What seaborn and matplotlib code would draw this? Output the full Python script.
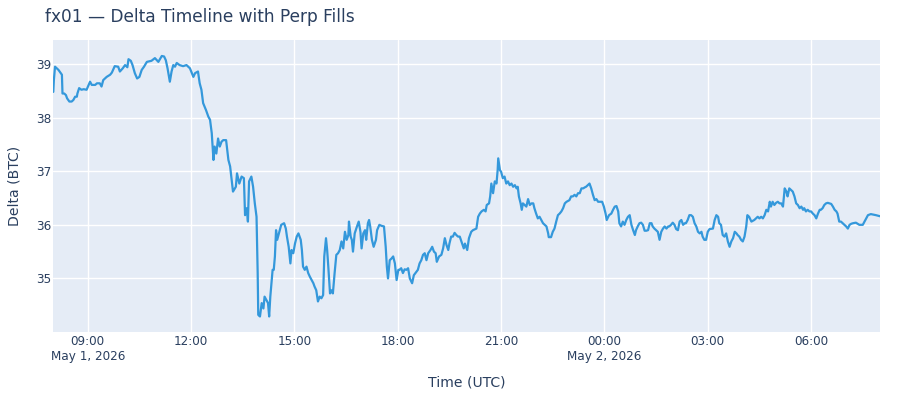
import pandas as pd
import matplotlib
matplotlib.use("Agg")
import matplotlib.pyplot as plt
import seaborn as sns

# Minutos desde 08:00 UTC del 1 de mayo y delta (BTC)
t_manana = [0, 1, 3, 6, 9, 11, 13, 15, 16, 19,
            22, 24, 28, 32, 35, 38, 41, 42, 45, 49,
            53, 58, 64, 67, 73, 76, 81, 84, 87, 93,
            99, 102, 107, 113, 116, 121, 125, 129, 131, 135,
            138, 142, 146, 150, 154, 158, 163, 171, 177, 183,
            189, 193, 196, 199, 203, 206, 209, 212, 215, 220]
d_manana = [38.48, 38.70, 38.95, 38.92, 38.89, 38.86, 38.83, 38.80, 38.45, 38.45,
            38.42, 38.36, 38.30, 38.30, 38.33, 38.39, 38.39, 38.45, 38.55, 38.52,
            38.53, 38.52, 38.67, 38.61, 38.61, 38.64, 38.64, 38.58, 38.70, 38.76,
            38.80, 38.84, 38.96, 38.95, 38.86, 38.92, 38.98, 38.94, 39.09, 39.06,
            38.98, 38.83, 38.73, 38.76, 38.89, 38.95, 39.04, 39.06, 39.11, 39.04,
            39.15, 39.14, 39.07, 38.92, 38.67, 38.86, 38.98, 38.95, 39.02, 38.98]

t_mediodia = [226, 232, 235, 238, 244, 247, 252, 255, 258, 261,
              266, 270, 273, 276, 279, 281, 284, 287, 290, 293,
              296, 301, 305, 308, 310, 313, 318, 320, 324, 328,
              332, 334, 337, 339, 341, 345, 348, 351, 354, 356,
              357, 360, 363, 366, 368, 371, 374, 376, 378, 382,
              384, 386, 388, 390, 393, 397, 402, 405, 407, 410,
              413, 415, 418, 421, 424, 427, 431, 433, 435, 438,
              441, 444, 447, 450, 453, 455, 458, 461, 464]
d_mediodia = [38.96, 38.98, 38.95, 38.92, 38.76, 38.83, 38.86, 38.64, 38.52, 38.27,
              38.14, 38.02, 37.96, 37.71, 37.21, 37.46, 37.33, 37.61, 37.46, 37.55,
              37.58, 37.58, 37.21, 37.09, 36.90, 36.62, 36.71, 36.96, 36.77, 36.90,
              36.87, 36.18, 36.31, 36.06, 36.81, 36.90, 36.71, 36.40, 36.15, 35.10,
              34.32, 34.29, 34.54, 34.44, 34.66, 34.60, 34.54, 34.29, 34.66, 35.16,
              35.16, 35.41, 35.90, 35.72, 35.84, 36.00, 36.03, 35.93, 35.78, 35.59,
              35.28, 35.53, 35.47, 35.65, 35.78, 35.84, 35.72, 35.53, 35.22, 35.16,
              35.22, 35.10, 35.03, 34.97, 34.91, 34.85, 34.78, 34.57, 34.66]

t_tarde = [467, 470, 472, 475, 477, 479, 482, 485, 487, 490,
           493, 496, 499, 502, 505, 508, 511, 514, 515, 518,
           520, 522, 525, 529, 532, 535, 537, 540, 543, 545,
           548, 550, 552, 555, 558, 562, 564, 568, 572, 576,
           579, 581, 583, 586, 589, 592, 595, 598, 601, 603,
           606, 609, 612, 615, 618, 621, 625, 628, 633, 635,
           638, 641, 644, 647, 650, 653, 657, 660, 663, 666,
           668, 672, 676, 679, 682, 685, 688, 690, 693, 696,
           699, 702, 705, 708, 713, 715, 717, 721, 724]
d_tarde = [34.63, 34.69, 35.41, 35.75, 35.53, 35.22, 34.72, 34.78, 34.72, 35.10,
           35.44, 35.47, 35.53, 35.69, 35.56, 35.87, 35.72, 35.81, 36.06, 35.78,
           35.72, 35.50, 35.84, 35.97, 36.06, 35.87, 35.56, 35.84, 35.90, 35.72,
           36.03, 36.09, 35.97, 35.72, 35.59, 35.72, 35.90, 36.00, 35.98, 35.97,
           35.59, 35.22, 35.00, 35.34, 35.37, 35.41, 35.28, 34.97, 35.16, 35.16,
           35.19, 35.10, 35.17, 35.16, 35.19, 35.00, 34.91, 35.06, 35.13, 35.16,
           35.28, 35.34, 35.44, 35.47, 35.34, 35.47, 35.53, 35.59, 35.50, 35.47,
           35.31, 35.41, 35.44, 35.56, 35.75, 35.62, 35.53, 35.65, 35.78, 35.78,
           35.85, 35.81, 35.78, 35.78, 35.62, 35.56, 35.65, 35.53, 35.75]

t_noche = [728, 731, 737, 740, 743, 746, 750, 753, 755, 759,
           761, 763, 766, 769, 772, 774, 775, 778, 780, 783,
           786, 789, 792, 795, 798, 801, 804, 807, 809, 811,
           814, 816, 818, 821, 824, 827, 830, 833, 836, 838,
           841, 844, 847, 850, 853, 856, 859, 862, 863, 867,
           870, 873, 876, 879, 882, 885, 888, 891, 894, 899,
           902, 905, 908, 911, 914, 917, 920, 923, 926, 928,
           931, 934, 937, 940, 943, 946, 949, 952]
d_noche = [35.87, 35.90, 35.93, 36.15, 36.21, 36.25, 36.28, 36.25, 36.37, 36.40,
           36.53, 36.77, 36.59, 36.81, 36.77, 37.02, 37.24, 37.02, 36.99, 36.87,
           36.90, 36.77, 36.81, 36.74, 36.77, 36.71, 36.74, 36.68, 36.71, 36.53,
           36.40, 36.28, 36.40, 36.37, 36.34, 36.48, 36.37, 36.40, 36.40, 36.31,
           36.21, 36.12, 36.15, 36.09, 36.03, 36.00, 35.97, 35.84, 35.77, 35.77,
           35.87, 35.93, 36.06, 36.18, 36.21, 36.25, 36.31, 36.40, 36.43, 36.46,
           36.53, 36.53, 36.56, 36.53, 36.59, 36.59, 36.68, 36.68, 36.70, 36.71,
           36.74, 36.77, 36.68, 36.56, 36.46, 36.48, 36.43, 36.43]

t_madrugada = [956, 959, 962, 964, 968, 972, 975, 978, 981, 984,
               986, 989, 992, 995, 998, 1001, 1004, 1007, 1010, 1013,
               1015, 1018, 1021, 1024, 1027, 1030, 1033, 1036, 1039, 1042,
               1044, 1047, 1050, 1053, 1056, 1059, 1062, 1065, 1068, 1071,
               1073, 1076, 1079, 1082, 1085, 1088, 1091, 1094, 1097, 1100,
               1102, 1105, 1108, 1111, 1114, 1117, 1120, 1123, 1126, 1129,
               1131, 1134, 1137, 1140, 1143, 1149, 1152, 1155, 1158, 1160,
               1163, 1166, 1169, 1172, 1175, 1178, 1181, 1184, 1187, 1190,
               1192, 1195]
d_madrugada = [36.43, 36.34, 36.21, 36.09, 36.18, 36.21, 36.28, 36.34, 36.35, 36.25,
               36.03, 35.97, 36.06, 36.00, 36.09, 36.15, 36.18, 36.00, 35.90, 35.81,
               35.90, 35.97, 36.03, 36.04, 36.00, 35.89, 35.89, 35.90, 36.03, 36.03,
               35.97, 35.93, 35.90, 35.87, 35.72, 35.87, 35.93, 35.97, 35.93, 35.97,
               35.97, 36.00, 36.04, 36.00, 35.92, 35.90, 36.06, 36.09, 36.00, 36.03,
               36.03, 36.09, 36.18, 36.18, 36.15, 36.03, 35.97, 35.87, 35.84, 35.87,
               35.78, 35.72, 35.72, 35.87, 35.92, 35.93, 36.09, 36.18, 36.15, 36.03,
               36.00, 35.81, 35.78, 35.84, 35.69, 35.59, 35.69, 35.75, 35.87, 35.84,
               35.81, 35.78]

t_alba = [1198, 1201, 1204, 1207, 1209, 1212, 1216, 1221, 1227, 1230,
          1233, 1236, 1239, 1242, 1245, 1248, 1250, 1253, 1256, 1259,
          1262, 1265, 1268, 1271, 1274, 1277, 1279, 1282, 1285, 1288,
          1291, 1294, 1297, 1300, 1303, 1306, 1308, 1311, 1314, 1317,
          1320, 1323, 1326, 1329, 1332, 1335, 1337, 1340, 1343, 1346,
          1349, 1352, 1355, 1358, 1361, 1364, 1366, 1369, 1372, 1375,
          1378, 1381, 1384, 1387, 1390, 1393, 1398, 1404, 1410, 1413,
          1416, 1419, 1424, 1433, 1440]
d_alba = [35.72, 35.69, 35.78, 35.97, 36.18, 36.15, 36.06, 36.09, 36.15, 36.12,
          36.15, 36.12, 36.18, 36.28, 36.25, 36.43, 36.34, 36.43, 36.37, 36.41,
          36.43, 36.40, 36.40, 36.34, 36.68, 36.62, 36.53, 36.68, 36.65, 36.62,
          36.53, 36.40, 36.37, 36.31, 36.34, 36.28, 36.31, 36.25, 36.28, 36.25,
          36.25, 36.21, 36.18, 36.12, 36.21, 36.28, 36.28, 36.31, 36.37, 36.40,
          36.41, 36.40, 36.39, 36.34, 36.28, 36.25, 36.21, 36.06, 36.06, 36.03,
          36.00, 35.97, 35.93, 36.00, 36.02, 36.03, 36.04, 36.00, 36.00, 36.06,
          36.12, 36.18, 36.20, 36.18, 36.16]

inicio = "2026-05-01 08:00"
fin = "2026-05-02 08:00"

tick_times = ["2026-05-01 09:00", "2026-05-01 12:00", "2026-05-01 15:00",
              "2026-05-01 18:00", "2026-05-01 21:00", "2026-05-02 00:00",
              "2026-05-02 03:00", "2026-05-02 06:00"]
tick_labels = ["09:00\nMay 1, 2026", "12:00", "15:00", "18:00", "21:00",
               "00:00\nMay 2, 2026", "03:00", "06:00"]
y_ticks = [35, 36, 37, 38, 39]

minutos = t_manana + t_mediodia + t_tarde + t_noche + t_madrugada + t_alba
delta = d_manana + d_mediodia + d_tarde + d_noche + d_madrugada + d_alba
data = pd.DataFrame({
    "time": pd.Timestamp(inicio) + pd.to_timedelta(minutos, unit="min"),
    "delta": delta,
})

texto = "#2a3f5f"
sns.set_style("darkgrid", {"axes.facecolor": "#E5ECF6", "grid.color": "white"})
plt.rcParams["font.family"] = ["DejaVu Sans"]

fig = plt.figure(figsize=(9, 4), dpi=100)
ax = fig.add_axes([53.3 / 900, 1 - 331.7 / 400, 826.7 / 900, 291.7 / 400])

sns.lineplot(data=data, x="time", y="delta", ax=ax, color="#3498db",
             linewidth=1.6, estimator=None)

ax.set_xlim(pd.Timestamp(inicio), pd.Timestamp(fin))
ax.set_ylim(34.006, 39.448)
ax.set_xticks(pd.to_datetime(tick_times))
ax.set_xticklabels(tick_labels, linespacing=1.15)
ax.set_yticks(y_ticks)
ax.set_yticklabels([str(v) for v in y_ticks])
ax.grid(True, color="white", linewidth=1.0)
for s in ax.spines.values():
    s.set_visible(False)
ax.tick_params(axis="x", length=0, pad=2.5, labelsize=8.64, labelcolor=texto)
ax.tick_params(axis="y", length=0, pad=1.5, labelsize=8.64, labelcolor=texto)

ax.set_xlabel("Time (UTC)", fontsize=10.08, color=texto, va="center")
ax.xaxis.set_label_coords(0.5, (331.7 - 382) / 291.7)
ax.set_ylabel("Delta (BTC)", fontsize=10.08, color=texto, va="center")
ax.yaxis.set_label_coords((15 - 53.3) / 826.7, 0.5)

fig.text(45 / 900, 1 - 21.5 / 400, "fx01 \u2014 Delta Timeline with Perp Fills",
         fontsize=12.24, color=texto, ha="left", va="baseline")

fig.savefig("out.png", dpi=100)
